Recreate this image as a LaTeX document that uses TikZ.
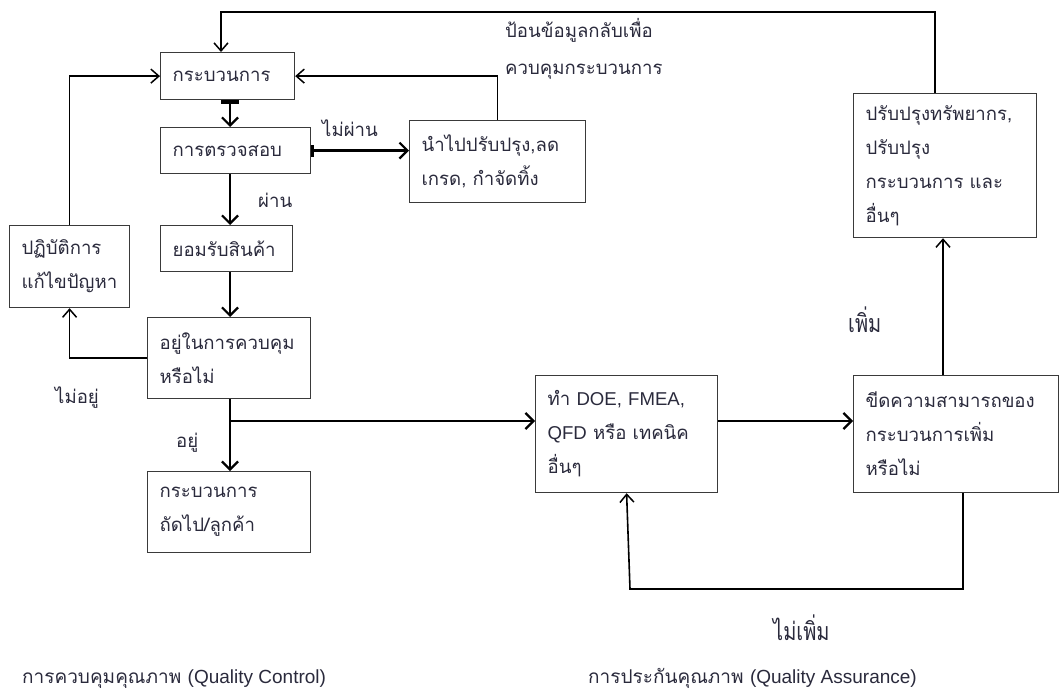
\documentclass[tikz,border=0pt]{standalone}
\usepackage{fontspec}
\usetikzlibrary{arrows.meta}
\newfontfamily\thf[Script=Thai]{Loma}
\newfontfamily\lat{Liberation Sans}
\newfontfamily\thn[Script=Thai,FakeStretch=0.8]{Loma}
\definecolor{ink}{HTML}{2A2A3C}
\definecolor{frame}{HTML}{3A3A3A}
\begin{document}
\begin{tikzpicture}[x=1pt,y=-1pt,
  box/.style={draw=frame, line width=1.2pt, anchor=north west, inner xsep=12pt,
    inner ysep=0pt, align=left, text=ink, font=\thf\fontsize{18.6}{34}\selectfont},
  lbl/.style={text=ink, inner sep=0pt, font=\thf\fontsize{18.6}{34}\selectfont},
  lbln/.style={text=ink, inner sep=0pt, font=\thn\fontsize{25}{34}\selectfont},
  flow/.style={draw=black, line width=2.5pt,
    -{Straight Barb[length=8pt,width=16pt,line width=2.2pt]}},
  back/.style={draw=black, line width=1.6pt,
    -{Straight Barb[length=8pt,width=14pt,line width=1.5pt]}},
  bar/.style={{Bar[width=18pt,line width=4pt]}-{Straight Barb[length=8pt,width=16pt,line width=2.2pt]}},
]
\useasboundingbox (0,0) rectangle (1060,690);

% ---- quality control side ----
\node[box, text width=110pt, minimum height=47pt] (proc) at (160,52) {กระบวนการ};
\node[box, text width=126pt, minimum height=46pt] (insp) at (160,127) {การตรวจสอบ};
\node[box, text width=108pt, minimum height=46pt] (acc) at (160,225) {ยอมรับสินค้า};
\node[box, text width=139pt, minimum height=81pt] (ctrl) at (147,317) {อยู่ในการควบคุม\\หรือไม่};
\node[box, text width=139pt, minimum height=81pt] (next) at (147,471) {กระบวนการ\\ถัดไป/ลูกค้า};
\node[box, text width=96pt, minimum height=82pt] (corr) at (9,225) {ปฏิบัติการ\\แก้ไขปัญหา};
\node[box, text width=152pt, minimum height=82pt] (rework) at (409,120) {นำไปปรับปรุง,ลด\\เกรด, กำจัดทิ้ง};

% ---- quality assurance side ----
\node[box, text width=159pt, minimum height=144pt] (improve) at (853,93)
  {ปรับปรุงทรัพยากร,\\ปรับปรุง\\กระบวนการ และ\\อื่นๆ};
\node[box, text width=158pt, minimum height=117pt] (doe) at (535,375)
  {ทำ {\lat DOE, FMEA,}\\{\lat QFD} หรือ เทคนิค\\อื่นๆ};
\node[box, text width=181pt, minimum height=117pt] (cap) at (853,375)
  {ขีดความสามารถของ\\กระบวนการเพิ่ม\\หรือไม่};

% helper columns and rows for the connectors
\coordinate (colA) at (230,0);
\coordinate (colT) at (935,0);
\coordinate (colP) at (221,0);
\coordinate (rowT) at (0,12);
\coordinate (br) at (230,421);
\coordinate (colU) at (943,0);
\coordinate (colD) at (963,0);
\coordinate (colF) at (630,0);
\coordinate (rowB) at (0,589);

% main flow
\draw[flow, bar] (proc.south -| colA) -- (insp.north -| colA);
\draw[flow, {Bar[width=12pt,line width=3pt]}-{Straight Barb[length=8pt,width=16pt,line width=2.2pt]}]
  (insp.east) -- (insp.east -| rework.west);
\draw[flow] (insp.south -| colA) -- (acc.north -| colA);
\draw[flow] (acc.south -| colA) -- (ctrl.north -| colA);
\draw[flow] (ctrl.south -| colA) -- (next.north -| colA);
\draw[flow] (br) -- (br -| doe.west);
\draw[flow] (br -| doe.east) -- (br -| cap.west);

% feedback loops
\draw[back] (ctrl.west) -| (corr.south);
\draw[back] (corr.north) |- (proc.west);
\draw[back] (rework.north) |- (proc.east);
\draw[back] (improve.north -| colT) -- (colT |- rowT) -- (colP |- rowT) -- (proc.north -| colP);
\draw[back] (cap.north -| colU) -- (improve.south -| colU);
\draw[back] (cap.south -| colD) -- (colD |- rowB) -- (colF |- rowB) -- (doe.south);

% connector labels
\node[lbl, anchor=north west, align=left, font=\thf\fontsize{18.6}{37}\selectfont] (fb) at (505,18)
  {ป้อนข้อมูลกลับเพื่อ\\ควบคุมกระบวนการ};
\node[lbl, anchor=west] (lfail) at (322,128) {ไม่ผ่าน};
\node[lbl, anchor=west] (lpass) at (258,200) {ผ่าน};
\node[lbl, anchor=west] (lout) at (55,398) {ไม่อยู่};
\node[lbl, anchor=west] (lin) at (176,443) {อยู่};
\node[lbln, anchor=west] (lup) at (848,320) {เพิ่ม};
\node[lbln, anchor=west] (lnoup) at (773,628) {ไม่เพิ่ม};

% section captions
\node[lbl, anchor=base west, font=\thf\fontsize{19}{22}\selectfont] (qc) at (22,683)
  {การควบคุมคุณภาพ {\lat (Quality Control)}};
\node[lbl, anchor=base west, font=\thf\fontsize{19}{22}\selectfont] (qa) at (588,683)
  {การประกันคุณภาพ {\lat (Quality Assurance)}};
\end{tikzpicture}
\end{document}
